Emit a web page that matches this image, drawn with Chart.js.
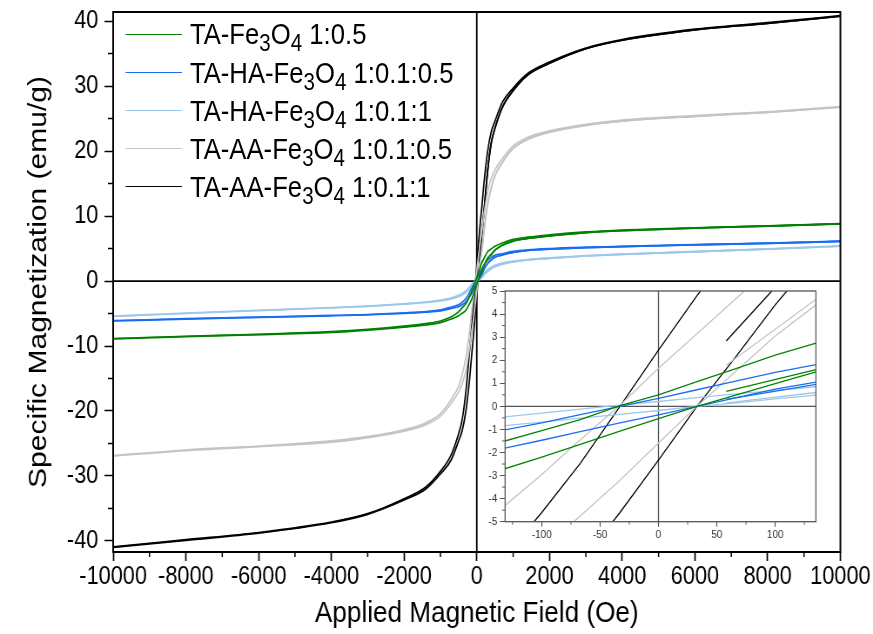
<!DOCTYPE html>
<html>
<head>
<meta charset="utf-8">
<script src="https://cdn.jsdelivr.net/npm/chart.js@4.4.0/dist/chart.umd.min.js"></script>
<style>
  html, body { margin: 0; background: #fff; overflow: hidden; }
  /* the figure is drawn wide and squeezed horizontally, like the original export */
  #wrap { position: relative; width: 1003px; height: 634px; transform: scaleX(0.8704); transform-origin: 0 0;
          font-family: 'Liberation Sans', Arial, sans-serif; }
  #mainChart { position: absolute; left: 0; top: 0; }
  #insetChart { position: absolute; left: 540px; top: 283px; }
  #legend { position: absolute; left: 143.7px; top: 15px; }
  .row { display: flex; align-items: center; height: 38.2px; }
  .swatch { width: 65.5px; height: 0; border-top: 1.6px solid; margin-right: 9px; }
  .label { font-size: 29.5px; color: #000; white-space: nowrap; line-height: 1; }
  .label sub { font-size: 0.8em; vertical-align: -0.3em; line-height: 0; }
</style>
</head>
<body>
<div id="wrap">
  <canvas id="mainChart" width="1003" height="634"></canvas>
  <canvas id="insetChart" width="425" height="268"></canvas>
  <div id="legend"></div>
</div>
<script>
// applied field grid (Oe), shared by every branch
const fieldOe = [-10000, -8000, -6000, -4000, -3000, -2000, -1400, -1000, -700, -500, -400, -300, -200, -135, -100, -67, -33,
                 0, 33, 67, 100, 135, 200, 300, 400, 500, 700, 1000, 1400, 2000, 3000, 4000, 6000, 8000, 10000];

const seriesLabels = ['TA-Fe3O4 1:0.5', 'TA-HA-Fe3O4 1:0.1:0.5', 'TA-HA-Fe3O4 1:0.1:1', 'TA-AA-Fe3O4 1:0.1:0.5', 'TA-AA-Fe3O4 1:0.1:1'];
const seriesColors = ['#008000', '#1a6cf0', '#9ec8ea', '#c4c4c4', '#000000'];

// descending branch (upper), emu/g
const greenDesc = [-8.85, -8.5, -8.2, -7.8, -7.45, -6.95, -6.55, -6.15, -5.5, -4.75, -4.1, -3.5, -2.4, -1.55, -1.05, -0.58, 0.03,
                   0.5, 1.07, 1.65, 2.22, 2.74, 3.5, 4.5, 4.95, 5.35, 5.85, 6.4, 6.75, 7.1, 7.55, 7.85, 8.2, 8.5, 8.85];
const blueDesc = [-6.1, -5.8, -5.55, -5.3, -5.15, -4.9, -4.7, -4.45, -4.0, -3.65, -3.25, -2.7, -1.8, -1.05, -0.72, -0.36, 0.0,
                  0.35, 0.72, 1.1, 1.47, 1.81, 2.45, 3.2, 3.65, 3.95, 4.2, 4.55, 4.8, 5.0, 5.2, 5.35, 5.6, 5.85, 6.15];
const lightBlueDesc = [-5.4, -4.95, -4.5, -4.1, -3.85, -3.5, -3.25, -2.95, -2.6, -2.2, -1.9, -1.5, -0.92, -0.47, -0.29, -0.12, 0.05,
                       0.21, 0.38, 0.54, 0.69, 0.85, 1.25, 1.8, 2.15, 2.4, 2.75, 3.05, 3.3, 3.55, 3.9, 4.15, 4.55, 4.95, 5.4];
const grayDesc = [-26.85, -26.0, -25.4, -24.6, -23.95, -22.9, -21.8, -20.4, -18.2, -16.2, -14.4, -11.8, -7.8, -4.45, -2.95, -1.45, 0.05,
                  1.65, 3.15, 4.7, 6.2, 7.5, 10.3, 13.8, 15.8, 17.1, 18.8, 20.8, 22.1, 23.1, 24.1, 24.75, 25.45, 26.05, 26.85];
const blackDesc = [-40.9, -39.8, -38.7, -37.1, -35.8, -33.5, -31.7, -29.3, -26.7, -23.5, -21.3, -17.0, -10.8, -6.7, -4.6, -2.47, 0,
                   2.44, 4.8, 7.0, 9.2, 11.1, 15.2, 20.0, 23.0, 24.6, 27.5, 29.7, 31.95, 33.7, 35.85, 37.15, 38.75, 39.75, 40.85];

// ascending branch (lower), emu/g
const greenAsc = [-8.9, -8.55, -8.25, -7.9, -7.55, -7.1, -6.75, -6.4, -5.85, -5.35, -4.95, -4.5, -3.5, -2.76, -2.2, -1.65, -1.07,
                  -0.53, 0, 0.5, 0.98, 1.49, 2.4, 3.5, 4.1, 4.75, 5.5, 6.15, 6.55, 6.95, 7.45, 7.75, 8.15, 8.45, 8.8];
const blueAsc = [-6.15, -5.85, -5.6, -5.35, -5.2, -5.0, -4.8, -4.6, -4.2, -3.95, -3.65, -3.2, -2.45, -1.85, -1.47, -1.1, -0.72,
                 -0.37, 0, 0.38, 0.75, 1.05, 1.8, 2.7, 3.25, 3.65, 4.0, 4.4, 4.7, 4.9, 5.15, 5.3, 5.55, 5.8, 6.1];
const lightBlueAsc = [-5.45, -5.0, -4.55, -4.15, -3.9, -3.55, -3.3, -3.05, -2.75, -2.4, -2.15, -1.8, -1.25, -0.85, -0.68, -0.51, -0.35,
                      -0.18, 0, 0.15, 0.32, 0.49, 0.95, 1.5, 1.9, 2.2, 2.6, 2.95, 3.25, 3.5, 3.85, 4.1, 4.5, 4.9, 5.35];
const grayAsc = [-26.95, -26.1, -25.5, -24.8, -24.1, -23.1, -22.1, -20.8, -18.8, -17.1, -15.8, -13.8, -10.3, -7.6, -6.2, -4.75, -3.2,
                 -1.59, 0, 1.55, 3.05, 4.4, 7.8, 11.8, 14.4, 16.2, 18.2, 20.4, 21.8, 22.9, 23.95, 24.6, 25.35, 25.95, 26.75];
const blackAsc = [-41.0, -39.9, -38.8, -37.2, -35.9, -33.7, -32.0, -29.7, -27.5, -24.6, -23.0, -20.0, -15.2, -11.1, -9.0, -6.8, -4.6,
                  -2.33, 0, 2.2, 4.4, 6.5, 10.8, 17.0, 21.3, 23.5, 26.7, 29.3, 31.7, 33.5, 35.75, 37.05, 38.65, 39.65, 40.75];

// first points of each run (start of the measurement)
const virginOe = [58, 135];
const greenVirgin = [0.65, 1.59];
const blueVirgin = [0.3, 0.95];
const lightBlueVirgin = [0.15, 0.6];
const grayVirgin = [1.78, 4.64];
const blackVirgin = [2.83, 7.1];

const descData = [greenDesc, blueDesc, lightBlueDesc, grayDesc, blackDesc];
const ascData = [greenAsc, blueAsc, lightBlueAsc, grayAsc, blackAsc];
const virginData = [greenVirgin, blueVirgin, lightBlueVirgin, grayVirgin, blackVirgin];

// each loop as three runs with increasing field: start run, descending, ascending
function loopRuns(desc, asc, virgin) {
    const lastStart = virginOe[virginOe.length - 1];
    const start = virginOe.map((x, i) => ({ x: x, y: virgin[i] }));
    fieldOe.forEach((x, i) => { if (x > lastStart) start.push({ x: x, y: asc[i] }); });
    const down = fieldOe.map((x, i) => ({ x: x, y: desc[i] }));
    const up = fieldOe.map((x, i) => ({ x: x, y: asc[i] }));
    return [start, down, up];
}

function makeDatasets(width, smooth) {
    const sets = [];
    seriesLabels.forEach((label, i) => {
        loopRuns(descData[i], ascData[i], virginData[i]).forEach(run => {
            sets.push({
                label: label,
                data: run,
                borderColor: seriesColors[i],
                backgroundColor: seriesColors[i],
                borderWidth: width,
                showLine: true,
                pointRadius: 0,
                cubicInterpolationMode: smooth ? 'monotone' : 'default',
                tension: 0,
                fill: false
            });
        });
    });
    return sets;
}

// frame, zero lines and minor ticks
const axisFrame = {
    id: 'axisFrame',
    beforeDatasetsDraw(chart, args, opts) {
        const { ctx, chartArea: a, scales } = chart;
        const x0 = scales.x.getPixelForValue(0);
        const y0 = scales.y.getPixelForValue(0);
        ctx.save();
        ctx.strokeStyle = opts.color;
        ctx.lineWidth = opts.zeroWidth;
        ctx.beginPath();
        ctx.moveTo(x0, a.top); ctx.lineTo(x0, a.bottom);
        ctx.moveTo(a.left, y0); ctx.lineTo(a.right, y0);
        ctx.stroke();
        ctx.restore();
    },
    afterDraw(chart, args, opts) {
        const { ctx, chartArea: a, scales } = chart;
        ctx.save();
        ctx.strokeStyle = opts.color;
        ctx.lineWidth = opts.width;
        ctx.strokeRect(a.left, a.top, a.right - a.left, a.bottom - a.top);
        ctx.lineWidth = opts.minorWidth;
        ctx.beginPath();
        const xs = scales.x;
        for (let k = Math.ceil(xs.min / opts.minorX); k * opts.minorX <= xs.max; k++) {
            if (k % 2 === 0) continue;
            const px = xs.getPixelForValue(k * opts.minorX);
            ctx.moveTo(px, a.bottom); ctx.lineTo(px, a.bottom + opts.minorLenX);
        }
        const ys = scales.y;
        for (let k = Math.ceil(ys.min / opts.minorY); k * opts.minorY <= ys.max; k++) {
            if (k % 2 === 0) continue;
            const py = ys.getPixelForValue(k * opts.minorY);
            ctx.moveTo(a.left, py); ctx.lineTo(a.left - opts.minorLenY, py);
        }
        ctx.stroke();
        ctx.restore();
    }
};

// fixed axis boxes so the plot area lands where the original has it
function fixX(h) {
    return s => { s.height = h; s.paddingLeft = 0; s.paddingRight = 0; };
}
function fixY(w) {
    return s => { s.width = w; s.paddingTop = 0; s.paddingBottom = 0; };
}

const fontFamily = "'Liberation Sans', Arial, sans-serif";

new Chart(document.getElementById('mainChart'), {
    type: 'scatter',
    data: { datasets: makeDatasets(1.7, true) },
    plugins: [axisFrame],
    options: {
        responsive: false,
        animation: false,
        layout: { padding: { top: 12, right: 37.5, left: 0, bottom: 0 } },
        plugins: {
            legend: { display: false },
            tooltip: { enabled: false },
            axisFrame: { color: '#000', width: 2, zeroWidth: 1.8, minorWidth: 1.5, minorX: 1000, minorY: 5, minorLenX: 5, minorLenY: 6 }
        },
        scales: {
            x: {
                type: 'linear', min: -10000, max: 10000,
                afterFit: fixX(82),
                border: { display: false },
                grid: { drawOnChartArea: false, tickLength: 9, tickWidth: 1.7, tickColor: '#000' },
                ticks: { stepSize: 2000, includeBounds: false, autoSkip: false, maxRotation: 0, minRotation: 0,
                         padding: 4, color: '#000',
                         font: { family: fontFamily, size: 25, lineHeight: 1 },
                         callback: v => String(v) },
                title: { display: true, text: 'Applied Magnetic Field (Oe)', color: '#000',
                         font: { family: fontFamily, size: 30 }, padding: { top: 0, bottom: 2 } }
            },
            y: {
                type: 'linear', min: -41.7, max: 41.4,
                afterFit: fixY(130),
                border: { display: false },
                grid: { drawOnChartArea: false, tickLength: 10, tickWidth: 1.5, tickColor: '#000' },
                ticks: { stepSize: 10, includeBounds: false, padding: 7, color: '#000',
                         font: { family: fontFamily, size: 25, lineHeight: 1 },
                         callback: v => String(v) },
                title: { display: true, text: 'Specific Magnetization (emu/g)', color: '#000',
                         font: { family: fontFamily, size: 30 }, padding: { top: 27, bottom: 0 } }
            }
        }
    }
});

new Chart(document.getElementById('insetChart'), {
    type: 'scatter',
    data: { datasets: makeDatasets(1.3, false) },
    plugins: [axisFrame],
    options: {
        responsive: false,
        animation: false,
        layout: { padding: { top: 8, right: 27.6, left: 0, bottom: 0 } },
        plugins: {
            legend: { display: false },
            tooltip: { enabled: false },
            axisFrame: { color: '#555', width: 1.3, zeroWidth: 1.3, minorWidth: 1, minorX: 25, minorY: 0.5, minorLenX: 3, minorLenY: 3.5 }
        },
        scales: {
            x: {
                type: 'linear', min: -131.4, max: 134.9,
                afterFit: fixX(29.3),
                border: { display: false },
                grid: { drawOnChartArea: false, tickLength: 5, tickWidth: 1.2, tickColor: '#555' },
                ticks: { stepSize: 50, includeBounds: false, autoSkip: false, maxRotation: 0, minRotation: 0,
                         padding: 2, color: '#333',
                         font: { family: fontFamily, size: 11.5, lineHeight: 1 },
                         callback: v => String(v) }
            },
            y: {
                type: 'linear', min: -5, max: 5,
                afterFit: fixY(40.3),
                border: { display: false },
                grid: { drawOnChartArea: false, tickLength: 6, tickWidth: 1, tickColor: '#555' },
                ticks: { stepSize: 1, includeBounds: false, padding: 3, color: '#333',
                         font: { family: fontFamily, size: 11.5, lineHeight: 1 },
                         callback: v => String(v) }
            }
        }
    }
});

// legend with subscripts, built from the labels
const legendBox = document.getElementById('legend');
seriesLabels.forEach((label, i) => {
    const row = document.createElement('div');
    row.className = 'row';
    const html = label.replace('Fe3O4', 'Fe<sub>3</sub>O<sub>4</sub>');
    row.innerHTML = `<span class="swatch" style="border-color:${seriesColors[i]}"></span><span class="label">${html}</span>`;
    legendBox.appendChild(row);
});
</script>
</body>
</html>
